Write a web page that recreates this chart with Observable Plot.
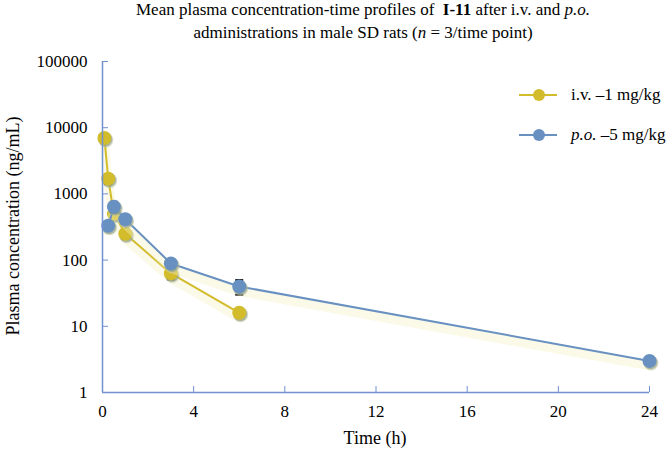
<!DOCTYPE html>
<html>
<head>
<meta charset="utf-8">
<script src="https://cdn.jsdelivr.net/npm/d3@7"></script>
<script src="https://cdn.jsdelivr.net/npm/@observablehq/plot@0.6"></script>
<style>
  html, body { margin: 0; padding: 0; background: #fff; }
  #wrap { position: relative; width: 669px; height: 452px; font-family: 'Liberation Serif', 'Times New Roman', serif; color: #000; overflow: hidden; }
  #title { height: 50px; box-sizing: border-box; padding-left: 57px; text-align: center; font-size: 17px; line-height: 23px; margin-top: -2px; }
  .ylab { position: absolute; left: 13px; top: 226px; transform: translate(-50%, -50%) rotate(-90deg); font-size: 18px; white-space: nowrap; }
  .xlab { position: absolute; left: 375px; top: 438px; transform: translate(-50%, -50%); font-size: 18px; white-space: nowrap; }
  .leg { position: absolute; left: 519px; font-size: 17px; display: flex; align-items: center; white-space: nowrap; }
  .leg svg { margin-right: 14px; }
</style>
</head>
<body>
<div id="wrap">
  <div id="title">Mean plasma concentration-time profiles of&nbsp; <b>I-11</b> after i.v. and <i>p.o.</i><br>administrations in male SD rats (<i>n</i> = 3/time point)</div>
  <div id="chart"></div>
  <div class="ylab">Plasma concentration (ng/mL)</div>
  <div class="xlab">Time (h)</div>
  <div class="leg" id="leg1" style="top:85px"></div>
  <div class="leg" id="leg2" style="top:125px"></div>
</div>
<script>
// ---- data ----
const seriesNames = ["i.v. \u20131 mg/kg", "p.o. \u20135 mg/kg"];
const ivTime = [0.083, 0.25, 0.5, 1, 3, 6];
const ivConc = [7000, 1700, 500, 250, 63, 16];
const ivSD   = [900, 300, 100, 40, 12, 2];
const poTime = [0.25, 0.5, 1, 3, 6, 24];
const poConc = [330, 640, 415, 89, 40, 3];
const poSD   = [40, 120, 60, 8, 10, 0.3];
const xTicks = [0, 4, 8, 12, 16, 20, 24];
const yTicks = [1, 10, 100, 1000, 10000, 100000];

const yellow = "#d3bc2b";
const blue = "#6891c2";
const axisBlue = "#7191d0";

const iv = ivTime.map((t, i) => ({t, c: ivConc[i], sd: ivSD[i], s: "iv"}));
const po = poTime.map((t, i) => ({t, c: poConc[i], sd: poSD[i], s: "po"}));

const cap = {draw(ctx, size) { const w = Math.sqrt(size / Math.PI); ctx.moveTo(-w, 0); ctx.lineTo(w, 0); }};

const lineSet = (data, color) => [
  Plot.line(data, {x: "t", y: "c", stroke: "#f6efc4", strokeOpacity: 0.4, strokeWidth: 9, dy: 5}),
  Plot.line(data, {x: "t", y: "c", stroke: color, strokeWidth: 2})
];
const errSet = (data) => [
  Plot.ruleX(data, {x: "t", y1: d => d.c - d.sd, y2: d => d.c + d.sd, stroke: "#222", strokeWidth: 1}),
  Plot.dot(data, {x: "t", y: d => d.c - d.sd, symbol: cap, r: 4, stroke: "#222", strokeWidth: 2, fill: "none"}),
  Plot.dot(data, {x: "t", y: d => d.c + d.sd, symbol: cap, r: 4, stroke: "#222", strokeWidth: 2, fill: "none"})
];
const dotSet = (data, color) => [
  Plot.dot(data, {x: "t", y: "c", r: 7.5, fill: "#b9c3a6", fillOpacity: 0.5, dx: 1.5, dy: 2}),
  Plot.dot(data, {x: "t", y: "c", r: 7, fill: "#8e9b80", fillOpacity: 0.6, dx: 1, dy: 1.5}),
  Plot.dot(data, {x: "t", y: "c", r: 7, fill: color})
];

const chart = Plot.plot({
  width: 669,
  height: 402,
  marginLeft: 102,
  marginRight: 20,
  marginTop: 13,
  marginBottom: 58,
  style: {fontFamily: "'Liberation Serif', 'Times New Roman', serif", fontSize: "17px", background: "white", color: "black", overflow: "visible"},
  x: {domain: [0, 24]},
  y: {type: "log", domain: [1, 100000]},
  marks: [
    ...lineSet(iv, yellow),
    ...errSet(iv),
    ...dotSet(iv, yellow),
    ...lineSet(po, blue),
    ...errSet(po),
    ...dotSet(po, blue),
    Plot.ruleX([0], {stroke: axisBlue, strokeWidth: 1.5}),
    Plot.ruleY([1], {stroke: axisBlue, strokeWidth: 1.5}),
    Plot.axisX({ticks: xTicks, tickSize: -6, tickPadding: 18, stroke: axisBlue, fill: "black", label: null, tickFormat: d => String(d)}),
    Plot.axisY({ticks: yTicks, tickSize: -6, tickPadding: 21, stroke: axisBlue, fill: "black", label: null, tickFormat: d => String(d)})
  ]
});
document.getElementById("chart").appendChild(chart);

// legend
function legendItem(el, color, html) {
  el.innerHTML = `<svg width="38" height="14"><line x1="0" y1="7" x2="38" y2="7" stroke="${color}" stroke-width="2"/><circle cx="20" cy="7" r="6" fill="${color}"/></svg><span>${html}</span>`;
}
legendItem(document.getElementById("leg1"), yellow, seriesNames[0]);
legendItem(document.getElementById("leg2"), blue, "<i>p.o.</i> \u20135 mg/kg");
</script>
</body>
</html>
